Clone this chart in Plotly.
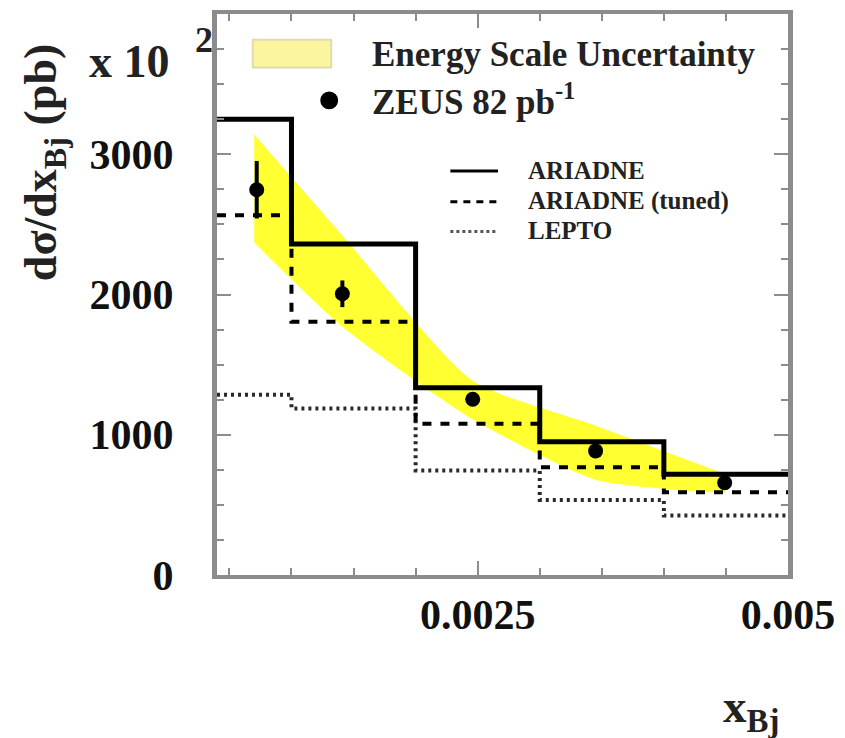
import plotly.graph_objects as go

# ---------------- data ----------------
bin_edges = [0.0004, 0.001, 0.002, 0.003, 0.004, 0.005]
ariadne = [3250, 2360, 1335, 950, 718]
ariadne_tuned = [2565, 1805, 1078, 768, 590]
lepto = [1285, 1188, 745, 535, 425]

zeus_x = [0.00072, 0.00141, 0.00246, 0.00345, 0.00449]
zeus_y = [2747, 2005, 1253, 885, 658]
zeus_err = [205, 95, 45, 35, 30]

band_x = [0.00070, 0.00141, 0.00246, 0.00345, 0.00449]
band_upper = [3140, 2420, 1385, 1065, 722]
band_lower = [2370, 1770, 1110, 680, 585]

x_tickvals = [0.0025, 0.005]
x_ticktext = ["0.0025", "0.005"]
y_tickvals = [0, 1000, 2000, 3000]
y_ticktext = ["0", "1000", "2000", "3000"]

# ---------------- layout geometry ----------------
W, H = 845, 738
L, R, T, B = 217, 792, 10, 575


def px(p):
    return (p - L) / (R - L)


def py(p):
    return (B - p) / (B - T)


SERIF = "Liberation Serif"
YEL = "rgb(255,255,50)"
AX = "#8c8c8c"

fig = go.Figure()

# energy-scale band
fig.add_trace(go.Scatter(x=band_x, y=band_lower, mode="lines",
                         line=dict(width=0, shape="spline", smoothing=0.6),
                         hoverinfo="skip", showlegend=False))
fig.add_trace(go.Scatter(x=band_x, y=band_upper, mode="lines",
                         line=dict(width=0, shape="spline", smoothing=0.6),
                         fill="tonexty", fillcolor=YEL,
                         hoverinfo="skip", showlegend=False))


def hist(vals):
    return list(vals) + [vals[-1]]


fig.add_trace(go.Scatter(x=bin_edges, y=hist(lepto), mode="lines",
                         line=dict(color="#2a2a2a", width=4, dash="3px,4px", shape="hv"),
                         showlegend=False))
fig.add_trace(go.Scatter(x=bin_edges, y=hist(ariadne_tuned), mode="lines",
                         line=dict(color="black", width=4, dash="9px,9px", shape="hv"),
                         showlegend=False))
fig.add_trace(go.Scatter(x=bin_edges, y=hist(ariadne), mode="lines",
                         line=dict(color="black", width=5, shape="hv"),
                         showlegend=False))

fig.add_trace(go.Scatter(x=zeus_x, y=zeus_y, mode="markers",
                         marker=dict(color="black", size=15),
                         error_y=dict(type="data", array=zeus_err, color="black",
                                      thickness=4, width=0),
                         showlegend=False))

# ---------------- legend (drawn manually) ----------------
shapes = [
    dict(type="rect", xref="paper", yref="paper",
         x0=px(253), x1=px(332), y0=py(64), y1=py(36),
         fillcolor="rgb(250,246,160)", line=dict(color="rgb(225,220,170)", width=2)),
    dict(type="circle", xref="paper", yref="paper",
         x0=px(321), x1=px(339), y0=py(106), y1=py(88),
         fillcolor="black", line=dict(color="black", width=0)),
    dict(type="line", xref="paper", yref="paper",
         x0=px(452), x1=px(500), y0=py(168), y1=py(168),
         line=dict(color="black", width=3)),
    dict(type="line", xref="paper", yref="paper",
         x0=px(452), x1=px(500), y0=py(199), y1=py(199),
         line=dict(color="black", width=3, dash="7px,6px")),
    dict(type="line", xref="paper", yref="paper",
         x0=px(452), x1=px(500), y0=py(229), y1=py(229),
         line=dict(color="#555555", width=3, dash="3px,3px")),
]

annotations = [
    dict(text="Energy Scale Uncertainty", x=px(371), y=py(51),
         font=dict(size=35, family=SERIF, color="#222", weight="bold")),
    dict(text="ZEUS 82 pb<sup>-1</sup>", x=px(371), y=py(96),
         font=dict(size=35, family=SERIF, color="#222", weight="bold")),
    dict(text="ARIADNE", x=px(528), y=py(168),
         font=dict(size=25, family=SERIF, color="#222", weight="bold")),
    dict(text="ARIADNE (tuned)", x=px(528), y=py(198),
         font=dict(size=25, family=SERIF, color="#222", weight="bold")),
    dict(text="LEPTO", x=px(528), y=py(228),
         font=dict(size=25, family=SERIF, color="#222", weight="bold")),
    # axis titles
    dict(text="dσ/dx<sub>Bj</sub> (pb)", x=px(43), y=py(160), textangle=-90,
         xanchor="center", yanchor="middle",
         font=dict(size=46, family=SERIF, color="#222", weight="bold")),
    dict(text="x 10", x=px(86), y=py(58),
         font=dict(size=46, family=SERIF, color="#222", weight="bold")),
    dict(text="2", x=px(193), y=py(36),
         font=dict(size=36, family=SERIF, color="#222", weight="bold")),
    dict(text="x<sub>Bj</sub>", x=px(725), y=py(710),
         font=dict(size=47, family=SERIF, color="#222", weight="bold")),
]
for a in annotations:
    a.setdefault("xref", "paper")
    a.setdefault("yref", "paper")
    a.setdefault("xanchor", "left")
    a.setdefault("yanchor", "middle")
    a["showarrow"] = False

ytickfont = dict(size=42, family=SERIF, color="#111", weight="bold")
xtickfont = dict(size=42, family=SERIF, color="#111", weight="bold")

fig.update_layout(
    width=W, height=H,
    margin=dict(l=L, r=W - R, t=T, b=H - B),
    paper_bgcolor="white", plot_bgcolor="white",
    shapes=shapes, annotations=annotations,
    showlegend=False,
    xaxis=dict(range=[bin_edges[0], bin_edges[-1]],
               tickvals=x_tickvals, ticktext=x_ticktext,
               ticks="inside", ticklen=14, tickwidth=2, tickcolor=AX,
               minor=dict(dtick=0.0005, tick0=0, ticks="inside", ticklen=7,
                          tickwidth=2, tickcolor=AX, showgrid=False),
               showline=True, linecolor=AX, linewidth=4, mirror="ticks",
               showgrid=False, zeroline=False, tickfont=xtickfont,
               ticklabelstandoff=0),
    yaxis=dict(range=[0, 4000],
               tickvals=y_tickvals, ticktext=y_ticktext,
               ticks="inside", ticklen=14, tickwidth=2, tickcolor=AX,
               minor=dict(dtick=250, tick0=0, ticks="inside", ticklen=7,
                          tickwidth=2, tickcolor=AX, showgrid=False),
               showline=True, linecolor=AX, linewidth=5, mirror="ticks",
               showgrid=False, zeroline=False, tickfont=ytickfont,
               ticklabelstandoff=30),
)

fig.write_html("out.html")
